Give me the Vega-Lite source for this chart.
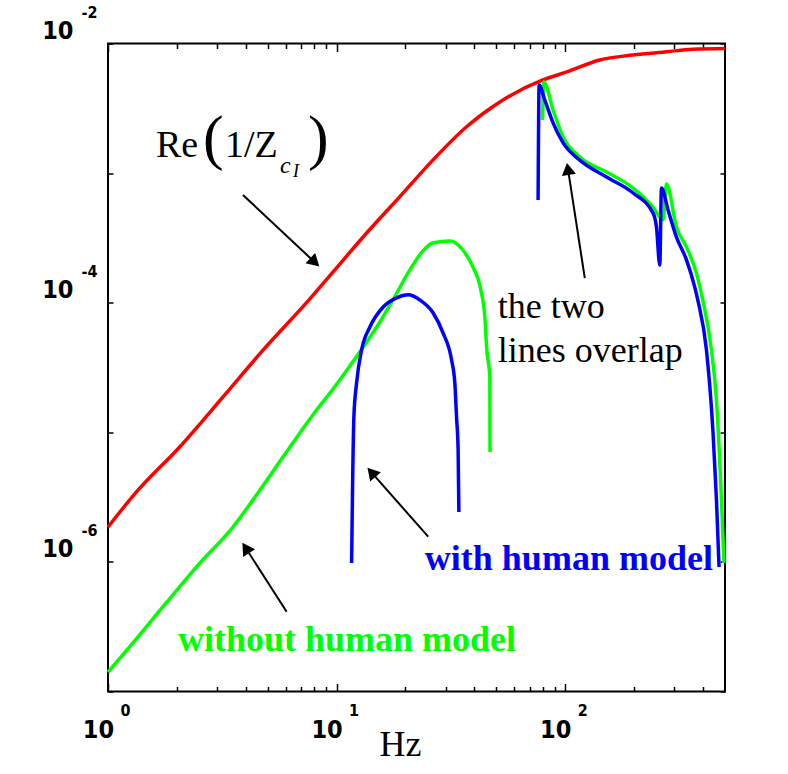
{
  "$schema": "https://vega.github.io/schema/vega-lite/v6.json",
  "width": 617,
  "height": 648,
  "autosize": {"type": "none"},
  "padding": {"left": 108, "top": 43.5, "right": 63, "bottom": 82.5},
  "background": "white",
  "config": {
    "view": {"stroke": "black", "strokeWidth": 2},
    "axis": {"grid": false, "domain": false, "labelColor": "black", "tickColor": "black", "tickWidth": 1.5, "labelFont": "Liberation Sans Narrow, Arial Narrow, DejaVu Sans Condensed, sans-serif", "labelFontWeight": "bold", "labelFlush": false, "labelOverlap": false, "labelBound": false}
  },
  "datasets": {
    "red": [
      {"f": 1, "v": 1.86e-6}, {"f": 1.335, "v": 3.48e-6}, {"f": 2.064, "v": 7.74e-6}, {"f": 3.193, "v": 1.884e-5},
      {"f": 4.775, "v": 4.32e-5}, {"f": 7.64, "v": 1.07e-4}, {"f": 9.63, "v": 1.72e-4}, {"f": 13.53, "v": 3.45e-4},
      {"f": 18.91, "v": 6.58e-4}, {"f": 26.36, "v": 1.26e-3}, {"f": 37.02, "v": 2.28e-3}, {"f": 51.76, "v": 3.54e-3},
      {"f": 79.8, "v": 5.23e-3}, {"f": 101.6, "v": 6.03e-3}, {"f": 141.6, "v": 7.46e-3}, {"f": 197.5, "v": 8.15e-3},
      {"f": 278, "v": 8.64e-3}, {"f": 361.4, "v": 9.02e-3}, {"f": 500, "v": 9.15e-3}
    ],
    "green": [
      {"seg": "a", "f": 1, "v": 1.41e-7}, {"seg": "a", "f": 1.286, "v": 2.37e-7}, {"seg": "a", "f": 1.811, "v": 4.91e-7},
      {"seg": "a", "f": 2.526, "v": 9.82e-7}, {"seg": "a", "f": 3.521, "v": 1.86e-6}, {"seg": "a", "f": 4.306, "v": 3.01e-6},
      {"seg": "a", "f": 5.824, "v": 6.44e-6}, {"seg": "a", "f": 8.2, "v": 1.5e-5}, {"seg": "a", "f": 9.63, "v": 2.15e-5},
      {"seg": "a", "f": 11.43, "v": 3.25e-5}, {"seg": "a", "f": 13.57, "v": 5.0e-5}, {"seg": "a", "f": 15.46, "v": 7.1e-5},
      {"seg": "a", "f": 17.63, "v": 1.05e-4}, {"seg": "a", "f": 20.92, "v": 1.79e-4}, {"seg": "a", "f": 23.85, "v": 2.51e-4},
      {"seg": "a", "f": 26.36, "v": 2.89e-4}, {"seg": "a", "f": 31.29, "v": 2.99e-4}, {"seg": "a", "f": 35.67, "v": 2.55e-4},
      {"seg": "a", "f": 39.45, "v": 1.89e-4}, {"seg": "a", "f": 42.76, "v": 1.25e-4}, {"seg": "a", "f": 44.5, "v": 7.76e-5},
      {"seg": "a", "f": 45.4, "v": 4.32e-5}, {"seg": "a", "f": 46.8, "v": 2.67e-5}, {"seg": "a", "f": 46.9, "v": 7.05e-6},
      {"seg": "b", "f": 79.6, "v": 2.57e-3}, {"seg": "b", "f": 80.6, "v": 5.05e-3}, {"seg": "b", "f": 88.5, "v": 3.07e-3},
      {"seg": "b", "f": 97.9, "v": 1.9e-3}, {"seg": "b", "f": 115.8, "v": 1.33e-3}, {"seg": "b", "f": 151.6, "v": 1.02e-3},
      {"seg": "b", "f": 198.2, "v": 7.67e-4}, {"seg": "b", "f": 242.3, "v": 5.47e-4}, {"seg": "b", "f": 267.9, "v": 4.35e-4},
      {"seg": "b", "f": 277.3, "v": 8.24e-4}, {"seg": "b", "f": 306.7, "v": 3.84e-4}, {"seg": "b", "f": 339.2, "v": 2.69e-4},
      {"seg": "b", "f": 375.1, "v": 1.69e-4}, {"seg": "b", "f": 399.8, "v": 1.05e-4}, {"seg": "b", "f": 436.2, "v": 4.32e-5},
      {"seg": "b", "f": 458.8, "v": 1.77e-5}, {"seg": "b", "f": 482.5, "v": 3.01e-6}, {"seg": "b", "f": 495, "v": 9.82e-7}
    ],
    "blue": [
      {"seg": "a", "f": 11.63, "v": 9.82e-7}, {"seg": "a", "f": 11.75, "v": 4.06e-6}, {"seg": "a", "f": 11.9, "v": 1.31e-5},
      {"seg": "a", "f": 12.23, "v": 2.4e-5}, {"seg": "a", "f": 12.86, "v": 4.32e-5}, {"seg": "a", "f": 13.98, "v": 6.49e-5},
      {"seg": "a", "f": 15.99, "v": 9.27e-5}, {"seg": "a", "f": 18.3, "v": 1.09e-4}, {"seg": "a", "f": 20.56, "v": 1.15e-4},
      {"seg": "a", "f": 23.13, "v": 1.05e-4}, {"seg": "a", "f": 26.45, "v": 8.33e-5}, {"seg": "a", "f": 29.24, "v": 5.83e-5},
      {"seg": "a", "f": 31.84, "v": 3.61e-5}, {"seg": "a", "f": 32.9, "v": 2.4e-5}, {"seg": "a", "f": 33.47, "v": 1.31e-5},
      {"seg": "a", "f": 34.01, "v": 7.29e-6}, {"seg": "a", "f": 34.26, "v": 2.43e-6},
      {"seg": "b", "f": 76.1, "v": 6.2e-4}, {"seg": "b", "f": 76.9, "v": 4.79e-3}, {"seg": "b", "f": 81.4, "v": 3.66e-3},
      {"seg": "b", "f": 88.5, "v": 2.44e-3}, {"seg": "b", "f": 97.9, "v": 1.71e-3}, {"seg": "b", "f": 115.8, "v": 1.26e-3},
      {"seg": "b", "f": 151.6, "v": 9.33e-4}, {"seg": "b", "f": 198.2, "v": 7.02e-4}, {"seg": "b", "f": 242.3, "v": 4.92e-4},
      {"seg": "b", "f": 250.7, "v": 3.84e-4}, {"seg": "b", "f": 259.2, "v": 1.95e-4}, {"seg": "b", "f": 263.7, "v": 7.67e-4},
      {"seg": "b", "f": 281.8, "v": 5.19e-4}, {"seg": "b", "f": 306.7, "v": 3.21e-4}, {"seg": "b", "f": 339.2, "v": 2.14e-4},
      {"seg": "b", "f": 368.7, "v": 1.32e-4}, {"seg": "b", "f": 380.1, "v": 1.05e-4}, {"seg": "b", "f": 414.8, "v": 4.32e-5},
      {"seg": "b", "f": 443.3, "v": 9.88e-6}, {"seg": "b", "f": 458.8, "v": 3.01e-6}, {"seg": "b", "f": 470.9, "v": 9.14e-7}
    ],
    "arrows": [
      {"id": "a1", "tx": 3.894, "ty": 6.78e-4, "hx": 8.03, "hy": 2.05e-4},
      {"id": "a2", "tx": 121.8, "ty": 1.55e-4, "hx": 102.8, "hy": 1.077e-3},
      {"id": "a3", "tx": 25.15, "ty": 1.565e-6, "hx": 14.21, "hy": 4.91e-6},
      {"id": "a4", "tx": 6.045, "ty": 4.13e-7, "hx": 4.004, "hy": 1.28e-6}
    ]
  },
  "resolve": {"axis": {"x": "independent", "y": "independent"}},
  "layer": [
    {
      "data": {"name": "red"},
      "mark": {"type": "line", "color": "#ff0000", "strokeWidth": 3.5, "interpolate": "monotone"},
      "encoding": {
        "x": {"field": "f", "type": "quantitative", "scale": {"type": "log", "domain": [1, 500], "nice": false},
          "axis": {"orient": "bottom", "values": [1, 10, 100], "labelExpr": "'10'", "ticks": false, "labelFontSize": 25, "labelAlign": "center", "labelBaseline": "alphabetic", "labelPadding": 46, "labelOffset": -10,
            "title": "Hz", "titleFont": "Liberation Serif", "titleFontSize": 36, "titleFontWeight": "normal", "titleColor": "black", "titleX": 292, "titleY": 64, "titleAlign": "center", "titleBaseline": "alphabetic"}},
        "y": {"field": "v", "type": "quantitative", "scale": {"type": "log", "domain": [1e-7, 1e-2], "nice": false},
          "axis": {"orient": "left", "values": [0.01, 0.0001, 0.000001], "labelExpr": "'10'", "ticks": false, "labelFontSize": 25, "labelAlign": "right", "labelBaseline": "alphabetic", "labelPadding": 35, "labelOffset": -5, "title": null}}
      }
    },
    {
      "data": {"name": "green"},
      "mark": {"type": "line", "color": "#00ff00", "strokeWidth": 3.5, "interpolate": "monotone"},
      "encoding": {
        "x": {"field": "f", "type": "quantitative", "scale": {"type": "log", "domain": [1, 500], "nice": false},
          "axis": {"orient": "bottom", "values": [1, 10, 100], "labelExpr": "datum.value < 5 ? '0' : datum.value < 50 ? '1' : '2'", "ticks": false, "labelFontSize": 16, "labelAlign": "center", "labelBaseline": "alphabetic", "labelPadding": 24, "labelOffset": 17, "title": null}},
        "y": {"field": "v", "type": "quantitative", "scale": {"type": "log", "domain": [1e-7, 1e-2], "nice": false},
          "axis": {"orient": "left", "values": [0.01, 0.0001, 0.000001], "labelExpr": "datum.value > 0.005 ? '-2' : datum.value > 0.00005 ? '-4' : '-6'", "ticks": false, "labelFontSize": 16, "labelAlign": "right", "labelBaseline": "alphabetic", "labelPadding": 11, "labelOffset": -26, "title": null}},
        "detail": {"field": "seg"}
      }
    },
    {
      "data": {"name": "blue"},
      "mark": {"type": "line", "color": "#0000ff", "strokeWidth": 3.5, "interpolate": "monotone"},
      "encoding": {
        "x": {"field": "f", "type": "quantitative", "scale": {"type": "log", "domain": [1, 500], "nice": false},
          "axis": {"orient": "bottom", "values": [1, 10, 100], "labels": false, "tickSize": -8, "title": null}},
        "y": {"field": "v", "type": "quantitative", "scale": {"type": "log", "domain": [1e-7, 1e-2], "nice": false},
          "axis": {"orient": "left", "values": [1e-7, 1e-6, 1e-5, 1e-4, 1e-3, 1e-2], "labels": false, "tickSize": -5, "title": null}},
        "detail": {"field": "seg"}
      }
    },
    {
      "data": {"name": "arrows"},
      "mark": {"type": "rule", "color": "black", "strokeWidth": 2},
      "encoding": {
        "x": {"field": "tx", "type": "quantitative", "scale": {"type": "log", "domain": [1, 500], "nice": false},
          "axis": {"orient": "bottom", "values": [2, 3, 4, 5, 6, 7, 8, 9, 20, 30, 40, 50, 60, 70, 80, 90, 200, 300, 400], "labels": false, "tickSize": -5, "title": null}},
        "y": {"field": "ty", "type": "quantitative", "scale": {"type": "log", "domain": [1e-7, 1e-2], "nice": false},
          "axis": {"orient": "right", "values": [1e-7, 1e-6, 1e-5, 1e-4, 1e-3, 1e-2], "labels": false, "tickSize": -5, "title": null}},
        "x2": {"field": "hx"},
        "y2": {"field": "hy"}
      }
    },
    {
      "data": {"name": "arrows"},
      "transform": [{"filter": "datum.id == 'a1'"}],
      "mark": {"type": "point", "shape": "triangle-up", "angle": 133, "size": 200, "filled": true, "color": "black", "opacity": 1},
      "encoding": {
        "x": {"field": "hx", "type": "quantitative", "scale": {"type": "log", "domain": [1, 500], "nice": false},
          "axis": {"orient": "top", "values": [1, 10, 100], "labels": false, "tickSize": -8, "title": null}},
        "y": {"field": "hy", "type": "quantitative", "scale": {"type": "log", "domain": [1e-7, 1e-2], "nice": false}, "axis": null}
      }
    },
    {
      "data": {"name": "arrows"},
      "transform": [{"filter": "datum.id == 'a2'"}],
      "mark": {"type": "point", "shape": "triangle-up", "angle": -9, "size": 200, "filled": true, "color": "black", "opacity": 1},
      "encoding": {
        "x": {"field": "hx", "type": "quantitative", "scale": {"type": "log", "domain": [1, 500], "nice": false},
          "axis": {"orient": "top", "values": [2, 3, 4, 5, 6, 7, 8, 9, 20, 30, 40, 50, 60, 70, 80, 90, 200, 300, 400], "labels": false, "tickSize": -5, "title": null}},
        "y": {"field": "hy", "type": "quantitative", "scale": {"type": "log", "domain": [1e-7, 1e-2], "nice": false}, "axis": null}
      }
    },
    {
      "data": {"name": "arrows"},
      "transform": [{"filter": "datum.id == 'a3'"}],
      "mark": {"type": "point", "shape": "triangle-up", "angle": -41, "size": 200, "filled": true, "color": "black", "opacity": 1},
      "encoding": {
        "x": {"field": "hx", "type": "quantitative", "scale": {"type": "log", "domain": [1, 500], "nice": false}, "axis": null},
        "y": {"field": "hy", "type": "quantitative", "scale": {"type": "log", "domain": [1e-7, 1e-2], "nice": false}, "axis": null}
      }
    },
    {
      "data": {"name": "arrows"},
      "transform": [{"filter": "datum.id == 'a4'"}],
      "mark": {"type": "point", "shape": "triangle-up", "angle": -33, "size": 200, "filled": true, "color": "black", "opacity": 1},
      "encoding": {
        "x": {"field": "hx", "type": "quantitative", "scale": {"type": "log", "domain": [1, 500], "nice": false}, "axis": null},
        "y": {"field": "hy", "type": "quantitative", "scale": {"type": "log", "domain": [1e-7, 1e-2], "nice": false}, "axis": null}
      }
    },
    {
      "data": {"values": [{"f": 50.7, "v": 7.62e-5, "t": "the two"}, {"f": 50.7, "v": 3.49e-5, "t": "lines overlap"}]},
      "mark": {"type": "text", "font": "Liberation Serif", "fontSize": 36, "align": "left", "baseline": "alphabetic", "color": "black"},
      "encoding": {
        "x": {"field": "f", "type": "quantitative", "scale": {"type": "log", "domain": [1, 500], "nice": false}, "axis": null},
        "y": {"field": "v", "type": "quantitative", "scale": {"type": "log", "domain": [1e-7, 1e-2], "nice": false}, "axis": null},
        "text": {"field": "t"}
      }
    },
    {
      "data": {"values": [{"f": 1.621, "v": 1.33e-3, "t": "Re"}, {"f": 3.25, "v": 1.33e-3, "t": "1/Z"}]},
      "mark": {"type": "text", "font": "Liberation Serif", "fontSize": 38, "align": "left", "baseline": "alphabetic", "color": "black"},
      "encoding": {
        "x": {"field": "f", "type": "quantitative", "scale": {"type": "log", "domain": [1, 500], "nice": false}, "axis": null},
        "y": {"field": "v", "type": "quantitative", "scale": {"type": "log", "domain": [1e-7, 1e-2], "nice": false}, "axis": null},
        "text": {"field": "t"}
      }
    },
    {
      "data": {"values": [{"f": 2.603, "v": 1.307e-3, "t": "("}, {"f": 7.5, "v": 1.307e-3, "t": ")"}]},
      "mark": {"type": "text", "font": "Liberation Serif", "fontSize": 62, "align": "left", "baseline": "alphabetic", "color": "black"},
      "encoding": {
        "x": {"field": "f", "type": "quantitative", "scale": {"type": "log", "domain": [1, 500], "nice": false}, "axis": null},
        "y": {"field": "v", "type": "quantitative", "scale": {"type": "log", "domain": [1e-7, 1e-2], "nice": false}, "axis": null},
        "text": {"field": "t"}
      }
    },
    {
      "data": {"values": [{"f": 5.655, "v": 1.0e-3, "t": "c"}]},
      "mark": {"type": "text", "font": "Liberation Serif", "fontSize": 24, "fontStyle": "italic", "align": "left", "baseline": "alphabetic", "color": "black"},
      "encoding": {
        "x": {"field": "f", "type": "quantitative", "scale": {"type": "log", "domain": [1, 500], "nice": false}, "axis": null},
        "y": {"field": "v", "type": "quantitative", "scale": {"type": "log", "domain": [1e-7, 1e-2], "nice": false}, "axis": null},
        "text": {"field": "t"}
      }
    },
    {
      "data": {"values": [{"f": 6.447, "v": 9.33e-4, "t": "I"}]},
      "mark": {"type": "text", "font": "Liberation Serif", "fontSize": 18, "fontStyle": "italic", "align": "left", "baseline": "alphabetic", "color": "black"},
      "encoding": {
        "x": {"field": "f", "type": "quantitative", "scale": {"type": "log", "domain": [1, 500], "nice": false}, "axis": null},
        "y": {"field": "v", "type": "quantitative", "scale": {"type": "log", "domain": [1e-7, 1e-2], "nice": false}, "axis": null},
        "text": {"field": "t"}
      }
    },
    {
      "data": {"values": [{"f": 24.32, "v": 8.66e-7, "t": "with human model"}]},
      "mark": {"type": "text", "font": "Liberation Serif", "fontSize": 36, "fontWeight": "bold", "align": "left", "baseline": "alphabetic", "color": "#0000ff"},
      "encoding": {
        "x": {"field": "f", "type": "quantitative", "scale": {"type": "log", "domain": [1, 500], "nice": false}, "axis": null},
        "y": {"field": "v", "type": "quantitative", "scale": {"type": "log", "domain": [1e-7, 1e-2], "nice": false}, "axis": null},
        "text": {"field": "t"}
      }
    },
    {
      "data": {"values": [{"f": 2.023, "v": 2.05e-7, "t": "without human model"}]},
      "mark": {"type": "text", "font": "Liberation Serif", "fontSize": 36, "fontWeight": "bold", "align": "left", "baseline": "alphabetic", "color": "#00ff00"},
      "encoding": {
        "x": {"field": "f", "type": "quantitative", "scale": {"type": "log", "domain": [1, 500], "nice": false}, "axis": null},
        "y": {"field": "v", "type": "quantitative", "scale": {"type": "log", "domain": [1e-7, 1e-2], "nice": false}, "axis": null},
        "text": {"field": "t"}
      }
    }
  ]
}
